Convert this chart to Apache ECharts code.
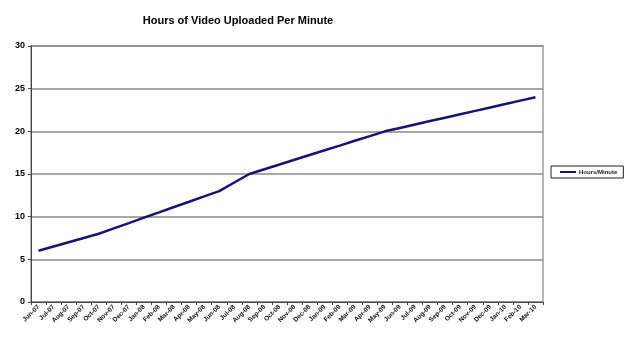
<!DOCTYPE html>
<html><head><meta charset="utf-8">
<script src="https://cdn.jsdelivr.net/npm/echarts@6/dist/echarts.min.js"></script>
<style>html,body{margin:0;padding:0;background:#fff}#c{width:630px;height:346px}</style>
</head><body><div id="c"></div>
<script>
var categories = ["Jun-07","Jul-07","Aug-07","Sep-07","Oct-07","Nov-07","Dec-07","Jan-08","Feb-08","Mar-08","Apr-08","May-08","Jun-08","Jul-08","Aug-08","Sep-08","Oct-08","Nov-08","Dec-08","Jan-09","Feb-09","Mar-09","Apr-09","May-09","Jun-09","Jul-09","Aug-09","Sep-09","Oct-09","Nov-09","Dec-09","Jan-10","Feb-10","Mar-10"];
var hoursPerMinute = [6,6.5,7,7.5,8,8.63,9.25,9.88,10.5,11.13,11.75,12.38,13,14,15,15.56,16.11,16.67,17.22,17.78,18.33,18.89,19.44,20,20.4,20.8,21.2,21.6,22,22.4,22.8,23.2,23.6,24];
var yTicks = {min:0, max:30, interval:5};
var chart = echarts.init(document.getElementById('c'), null, {renderer:'canvas'});
chart.setOption({
  animation:false,
  backgroundColor:'#fff',
  title:{text:'Hours of Video Uploaded Per Minute', left:233, top:10, textAlign:'center',
    textStyle:{fontFamily:'Liberation Sans, Arial', fontSize:11, fontWeight:'bold', color:'#000'}},
  grid:{left:31, right:87, top:46, bottom:44, containLabel:false,
    show:true, borderColor:'#a0a0a0', borderWidth:1.5},
  legend:{data:['Hours/Minute'], left:551, top:166, orient:'vertical',
    borderColor:'#222', borderWidth:1, padding:[3,6,3,9], itemWidth:16, itemHeight:2, itemGap:0,
    icon:'rect',
    textStyle:{fontFamily:'Liberation Sans, Arial', fontSize:6, fontWeight:'bold', color:'#222', padding:[0,0,0,-2]}},
  xAxis:{type:'category', data:categories, boundaryGap:true,
    axisLine:{lineStyle:{color:'#444', width:1}},
    axisTick:{show:true, length:3, inside:false, lineStyle:{color:'#444'}},
    axisLabel:{rotate:45, interval:0, fontFamily:'Liberation Sans, Arial', fontSize:6.5, fontWeight:'bold', color:'#111', margin:4}},
  yAxis:{type:'value', min:yTicks.min, max:yTicks.max, interval:yTicks.interval,
    axisLine:{show:true, lineStyle:{color:'#444', width:1}},
    axisTick:{show:true, length:3, lineStyle:{color:'#444'}},
    splitLine:{lineStyle:{color:'#8a8a8a', width:1.5}},
    axisLabel:{fontFamily:'Liberation Sans, Arial', fontSize:9, fontWeight:'bold', color:'#000', margin:6}},
  series:[{name:'Hours/Minute', type:'line', data:hoursPerMinute, showSymbol:false, symbol:'none',
    lineStyle:{color:'#16127a', width:2.5}, itemStyle:{color:'#16127a'}}]
});
</script></body></html>
